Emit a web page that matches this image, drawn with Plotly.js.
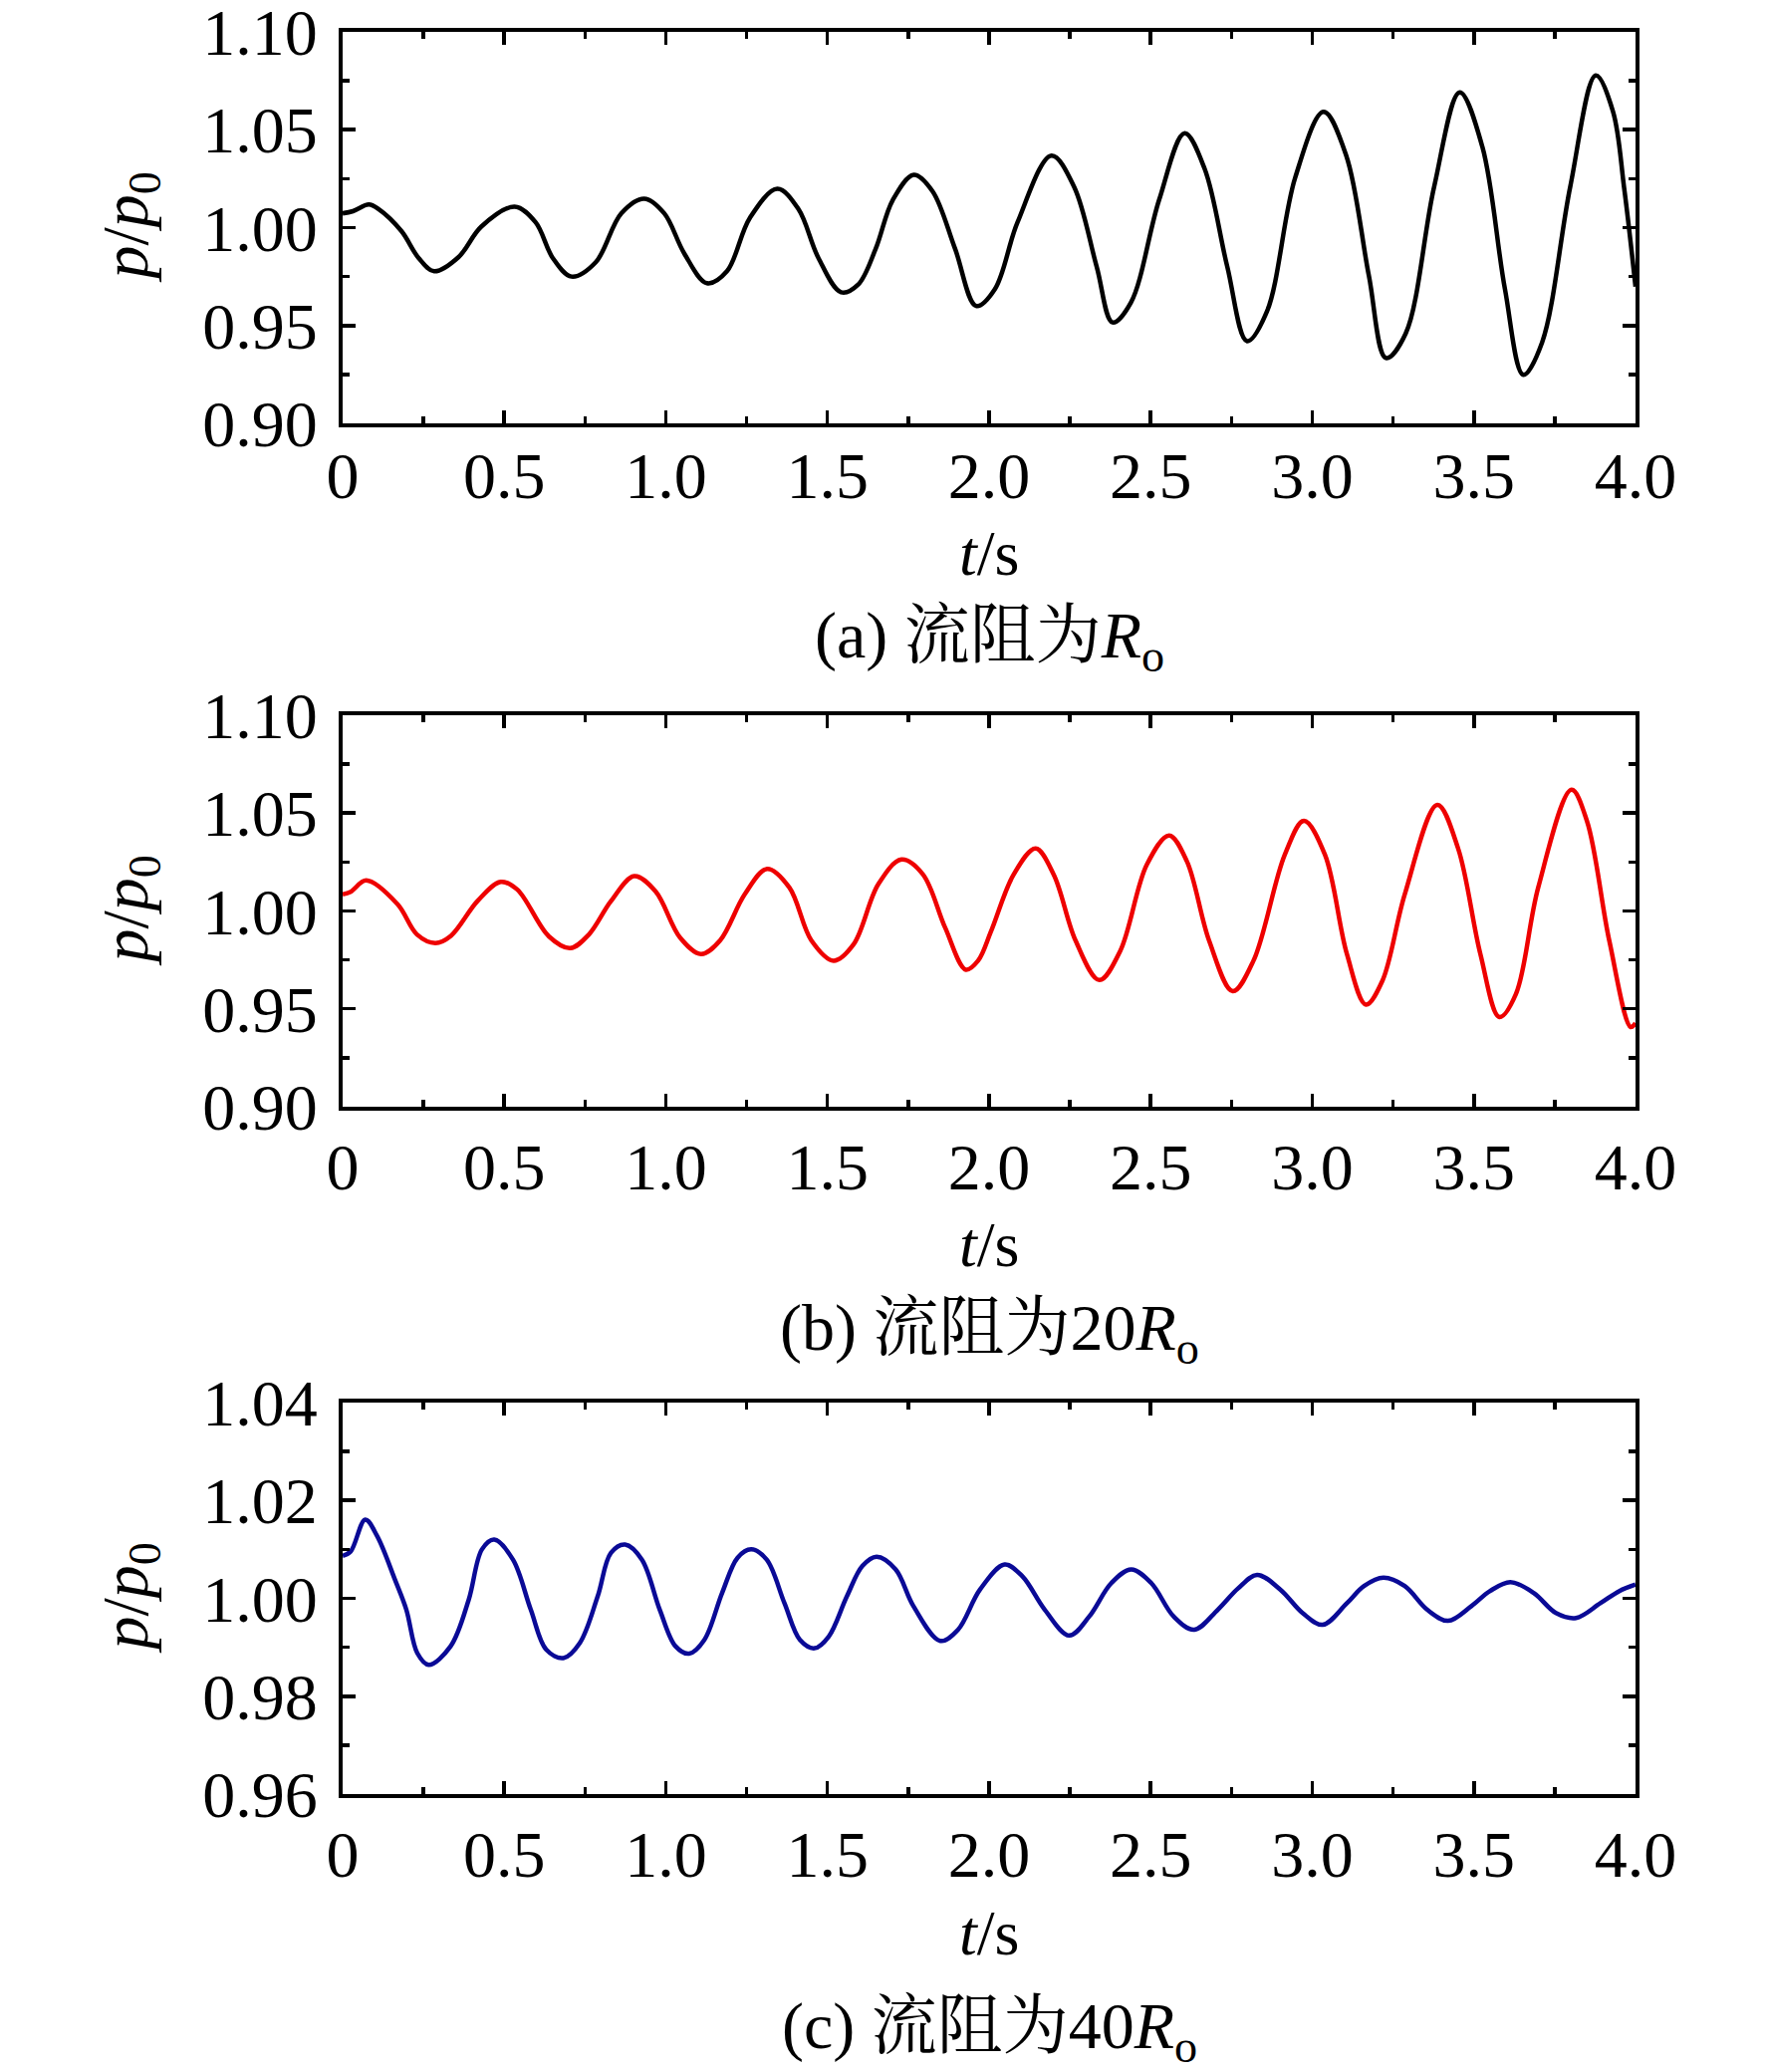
<!DOCTYPE html>
<html>
<head>
<meta charset="utf-8">
<script src="https://cdn.plot.ly/plotly-3.0.1.min.js"></script>
<style>
  body { margin: 0; background: #fff; }
  #chart { width: 1772px; height: 2080px; }
</style>
</head>
<body>
<div id="chart"></div>
<script>
// (a) R_o
var tA = [0, 0.032, 0.081, 0.111, 0.182, 0.235, 0.283, 0.359, 0.429, 0.532, 0.597, 0.65, 0.708, 0.783,
  0.862, 0.933, 0.995, 1.057, 1.127, 1.189, 1.26, 1.345, 1.41, 1.472, 1.542, 1.595, 1.649, 1.702,
  1.767, 1.825, 1.895, 1.96, 2.018, 2.088, 2.193, 2.263, 2.333, 2.382, 2.439, 2.526, 2.605, 2.667,
  2.737, 2.798, 2.86, 2.947, 3.035, 3.105, 3.175, 3.228, 3.289, 3.377, 3.456, 3.526, 3.596, 3.653,
  3.711, 3.798, 3.877, 3.93, 3.965, 4.0];
var pA = [1.0073, 1.0084, 1.0118, 1.0095, 0.9982, 0.9845, 0.9777, 0.985, 1.0005, 1.0107, 1.0027, 0.9845, 0.975, 0.9823,
  1.0073, 1.0148, 1.0073, 0.9868, 0.9716, 0.9777, 1.005, 1.0198, 1.0095, 0.9845, 0.967, 0.9709, 0.9891, 1.0141,
  1.027, 1.0186, 0.9891, 0.96, 0.9686, 1.0027, 1.0368, 1.0209, 0.98, 0.9516, 0.9618, 1.0141, 1.0482, 1.03,
  0.98, 0.942, 0.9573, 1.0255, 1.0591, 1.0368, 0.9755, 0.9334, 0.9459, 1.0209, 1.0691, 1.0414, 0.9686, 0.9248,
  0.9414, 1.0209, 1.0777, 1.0595, 1.02, 0.9698];

// (b) 20R_o
var tB = [0, 0.025, 0.073, 0.17, 0.23, 0.287, 0.335, 0.417, 0.489, 0.54, 0.638, 0.704, 0.762, 0.83,
  0.902, 0.968, 1.044, 1.109, 1.168, 1.244, 1.313, 1.382, 1.45, 1.519, 1.581, 1.657, 1.729, 1.795,
  1.864, 1.928, 1.966, 2.007, 2.076, 2.144, 2.2, 2.268, 2.341, 2.406, 2.488, 2.557, 2.612, 2.681,
  2.754, 2.818, 2.915, 2.974, 3.039, 3.107, 3.166, 3.217, 3.286, 3.387, 3.451, 3.52, 3.579, 3.63,
  3.699, 3.802, 3.85, 3.919, 3.985, 4.0];
var pB = [1.0085, 1.0098, 1.0156, 1.0034, 0.988, 0.9836, 0.9873, 1.005, 1.0149, 1.011, 0.987, 0.981, 0.988, 1.005,
  1.0178, 1.010, 0.9864, 0.978, 0.985, 1.0085, 1.0215, 1.012, 0.985, 0.9746, 0.983, 1.0136, 1.0263, 1.0188,
  0.9915, 0.970, 0.9746, 0.990, 1.0186, 1.0319, 1.0186, 0.9847, 0.9647, 0.9797, 1.0237, 1.0386, 1.0254, 0.9847,
  0.959, 0.9746, 1.0288, 1.0461, 1.0288, 0.978, 0.9522, 0.9644, 1.0085, 1.0542, 1.032, 0.978, 0.9458, 0.9576,
  1.012, 1.0619, 1.0458, 0.9847, 0.9407, 0.9427];

// (c) 40R_o
var tC = [0, 0.025, 0.07, 0.107, 0.162, 0.197, 0.231, 0.266, 0.334, 0.39, 0.431, 0.469, 0.527, 0.582,
  0.63, 0.683, 0.734, 0.789, 0.83, 0.874, 0.926, 0.981, 1.03, 1.072, 1.119, 1.174, 1.222, 1.264,
  1.312, 1.367, 1.415, 1.46, 1.504, 1.56, 1.608, 1.652, 1.711, 1.766, 1.849, 1.904, 1.972, 2.048,
  2.103, 2.172, 2.248, 2.31, 2.378, 2.44, 2.502, 2.571, 2.635, 2.708, 2.77, 2.829, 2.901, 2.97,
  3.032, 3.107, 3.16, 3.22, 3.286, 3.355, 3.42, 3.492, 3.55, 3.613, 3.685, 3.754, 3.816, 3.891,
  3.95, 4.0];
var pC = [1.0087, 1.0096, 1.0161, 1.0127, 1.0038, 0.9977, 0.9888, 0.9864, 0.9902, 0.9997, 1.010, 1.012, 1.0079, 0.9977,
  0.9895, 0.9878, 0.9909, 1.0004, 1.0093, 1.011, 1.0079, 0.9977, 0.9902, 0.9887, 0.9915, 1.0011, 1.0083, 1.010,
  1.0079, 0.999, 0.9915, 0.9898, 0.9922, 1.0004, 1.0066, 1.0085, 1.0059, 0.9984, 0.9913, 0.9936, 1.0018, 1.0069,
  1.0045, 0.9977, 0.9924, 0.9963, 1.0031, 1.0059, 1.0031, 0.9963, 0.9936, 0.9977, 1.002, 1.0048, 1.0018, 0.997,
  0.9946, 0.999, 1.0025, 1.0042, 1.0025, 0.9977, 0.9954, 0.9984, 1.0015, 1.0033, 1.0011, 0.997, 0.996, 0.999,
  1.0015, 1.0028];

var xTickVals = [0, 0.5, 1.0, 1.5, 2.0, 2.5, 3.0, 3.5, 4.0];
var xTickText = ["0", "0.5", "1.0", "1.5", "2.0", "2.5", "3.0", "3.5", "4.0"];
var yTickValsAB = [0.90, 0.95, 1.00, 1.05, 1.10];
var yTickValsC = [0.96, 0.98, 1.00, 1.02, 1.04];
var captions = ["(a) 流阻为<i>R</i><sub>o</sub>", "(b) 流阻为20<i>R</i><sub>o</sub>", "(c) 流阻为40<i>R</i><sub>o</sub>"];

var serif = "Liberation Serif, Times New Roman, Noto Serif CJK SC, Noto Sans CJK SC, serif";

function xAxis(yName, standoff) {
  return {
    domain: [0.19413, 0.92664],
    anchor: yName,
    range: [0, 4],
    tickmode: "array",
    tickvals: xTickVals,
    ticktext: xTickText,
    ticks: "inside",
    ticklen: 13,
    tickwidth: 3.5,
    tickcolor: "#000",
    ticklabelstandoff: standoff,
    ticklabeloverflow: "allow",
    minor: { tickmode: "linear", tick0: 0, dtick: 0.25, ticks: "inside", ticklen: 7, tickwidth: 3.5, tickcolor: "#000", showgrid: false },
    showline: true,
    linewidth: 4,
    linecolor: "#000",
    mirror: "ticks",
    showgrid: false,
    zeroline: false,
    tickfont: { family: serif, size: 66, color: "#000" }
  };
}

function yAxis(xName, domain, vals, dtick) {
  return {
    domain: domain,
    anchor: xName,
    range: [vals[0], vals[vals.length - 1]],
    tickmode: "array",
    tickvals: vals,
    tickformat: ".2f",
    ticks: "inside",
    ticklen: 13,
    tickwidth: 3.5,
    tickcolor: "#000",
    ticklabelstandoff: 8,
    ticklabeloverflow: "allow",
    minor: { tickmode: "linear", tick0: vals[0], dtick: dtick / 2, ticks: "inside", ticklen: 7, tickwidth: 3.5, tickcolor: "#000", showgrid: false },
    showline: true,
    linewidth: 4,
    linecolor: "#000",
    mirror: "ticks",
    showgrid: false,
    zeroline: false,
    tickfont: { family: serif, size: 66, color: "#000" }
  };
}

var data = [
  { x: tA, y: pA, xaxis: "x", yaxis: "y", mode: "lines", type: "scatter",
    line: { color: "#000000", width: 4.5, shape: "spline", smoothing: 1 } },
  { x: tB, y: pB, xaxis: "x2", yaxis: "y2", mode: "lines", type: "scatter",
    line: { color: "#ee0000", width: 4.5, shape: "spline", smoothing: 1 } },
  { x: tC, y: pC, xaxis: "x3", yaxis: "y3", mode: "lines", type: "scatter",
    line: { color: "#0a0a96", width: 4.5, shape: "spline", smoothing: 1 } }
];

var yTitleY = [0.89014, 0.56034, 0.22861];
var xTitleY = [0.73317, 0.39904, 0.06683];
var capY = [0.69087, 0.35721, 0.02019];

var annotations = [];
for (var i = 0; i < 3; i++) {
  annotations.push({ text: "<i>p</i>/<i>p</i><sub>0</sub>", xref: "paper", yref: "paper", x: 0.0734, y: yTitleY[i],
    xanchor: "center", yanchor: "middle", textangle: -90, showarrow: false,
    font: { family: serif, size: 66, color: "#000" } });
  annotations.push({ text: "<i>t</i>/s", xref: "paper", yref: "paper", x: 0.5604, y: xTitleY[i],
    xanchor: "center", yanchor: "middle", showarrow: false,
    font: { family: serif, size: 64, color: "#000" } });
  annotations.push({ text: captions[i], xref: "paper", yref: "paper", x: 0.5604, y: capY[i],
    xanchor: "center", yanchor: "middle", showarrow: false,
    font: { family: serif, size: 66, color: "#000" } });
}

var layout = {
  width: 1772,
  height: 2080,
  margin: { l: 0, r: 0, t: 0, b: 0 },
  showlegend: false,
  paper_bgcolor: "#fff",
  plot_bgcolor: "#fff",
  font: { family: serif, color: "#000" },
  xaxis: xAxis("y", -8),
  yaxis: yAxis("x", [0.79567, 0.98462], yTickValsAB, 0.05),
  xaxis2: xAxis("y2", 0),
  yaxis2: yAxis("x2", [0.46587, 0.65481], yTickValsAB, 0.05),
  xaxis3: xAxis("y3", 0),
  yaxis3: yAxis("x3", [0.13413, 0.32308], yTickValsC, 0.02),
  annotations: annotations
};

Plotly.newPlot("chart", data, layout, { staticPlot: true });
</script>
</body>
</html>
